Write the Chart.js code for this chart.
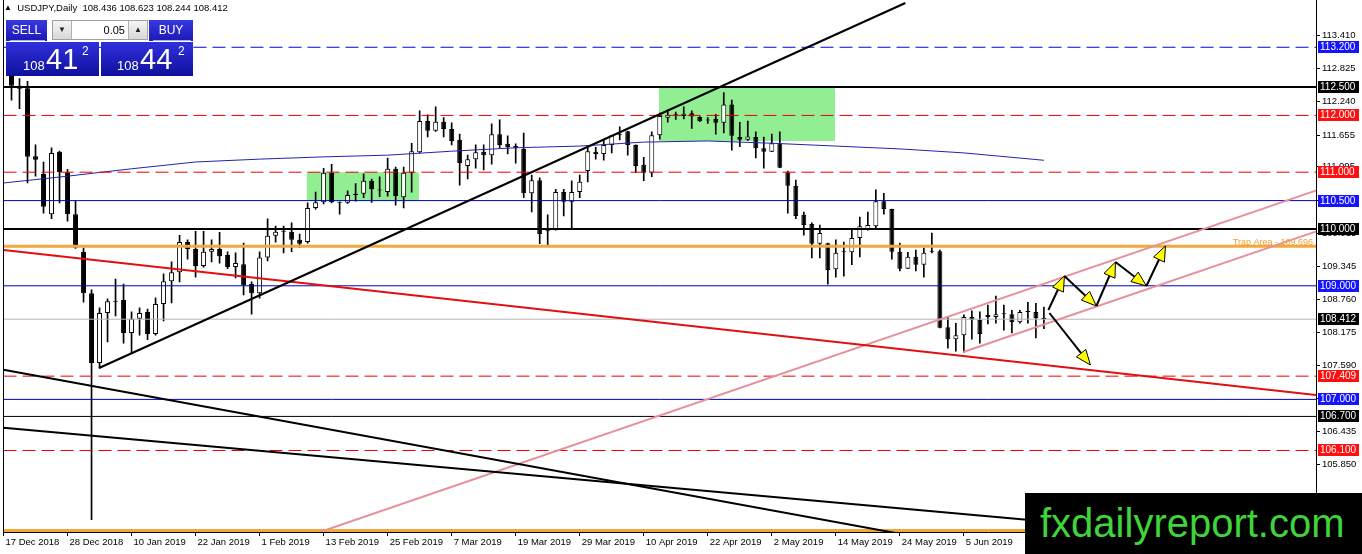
<!DOCTYPE html>
<html>
<head>
<meta charset="utf-8">
<title>USDJPY Daily</title>
<script src="https://cdn.jsdelivr.net/npm/chart.js@4.4.1/dist/chart.umd.min.js"></script>
<style>
  html, body { margin: 0; padding: 0; background: #fff; }
  #wrap { position: relative; width: 1362px; height: 554px; overflow: hidden; font-family: "Liberation Sans", Arial, sans-serif; }
  #chart { position: absolute; left: 0; top: 0; }
  #title { position: absolute; left: 4px; top: 1px; line-height: 13px; font-size: 9.5px; color: #000; white-space: pre; }
  #title .tri { font-size: 8px; position: relative; top: -1px; }
  .btn { position: absolute; top: 20px; height: 21px; line-height: 21px; background: linear-gradient(#3838e0, #1a1ab8); color: #fff; font-size: 12px; text-align: center; }
  .btn .ul { position: absolute; left: 4px; right: 2px; bottom: 0; height: 1px; background: #a8aee8; }
  #spin { position: absolute; left: 52px; top: 20px; width: 96px; height: 20px; background: #fff; border: 1px solid #a0a0a0; box-sizing: border-box; }
  #spin .arr { position: absolute; top: 0; width: 18px; height: 18px; line-height: 18px; background: linear-gradient(#f4f4f4, #d8d8d8); border-right: 1px solid #b0b0b0; font-size: 8px; text-align: center; color: #222; }
  #spin .dn { left: 0; }
  #spin .up { right: 0; border-right: none; border-left: 1px solid #b0b0b0; }
  #spin .lot { position: absolute; left: 20px; right: 22px; top: 0; line-height: 18px; text-align: right; font-size: 11px; color: #000; }
  .price { position: absolute; top: 42px; height: 34px; background: linear-gradient(#3030dc, #10109e); color: #fff; }
  .price span { position: absolute; line-height: 1; white-space: nowrap; }
  .price .s { font-size: 13px; top: 17px; }
  .price .b { font-size: 29px; top: 3px; }
  .price .p { font-size: 12px; top: 3px; }
  #logo { position: absolute; left: 1025px; top: 493px; width: 337px; height: 61px; background: #000; color: #3fd43a; font-size: 40px; line-height: 61px; text-indent: 15px; white-space: nowrap; }
</style>
</head>
<body>
<div id="wrap">
  <canvas id="chart" width="1362" height="554" style="width:1362px;height:554px"></canvas>
  <div id="title"><span class="tri">▲</span>  USDJPY,Daily  108.436 108.623 108.244 108.412</div>
  <div class="btn" style="left:6px;width:41px">SELL<div class="ul"></div></div>
  <div id="spin"><div class="arr dn">▼</div><div class="lot">0.05</div><div class="arr up">▲</div></div>
  <div class="btn" style="left:149px;width:44px">BUY<div class="ul"></div></div>
  <div class="price" style="left:6px;width:93px"><span class="s" style="left:17px">108</span><span class="b" style="left:40px">41</span><span class="p" style="left:76px">2</span></div>
  <div class="price" style="left:101px;width:92px"><span class="s" style="left:16px">108</span><span class="b" style="left:39px">44</span><span class="p" style="left:77px">2</span></div>
  <div id="logo">fxdailyreport.com</div>
</div>
<script>
// daily bars, 18 Dec 2018 .. 19 Jun 2019 (17 Dec sits on the left edge)
var dates = [
  '18 Dec 2018','19 Dec 2018','20 Dec 2018','21 Dec 2018','24 Dec 2018','26 Dec 2018','27 Dec 2018','28 Dec 2018','31 Dec 2018',
  '2 Jan 2019','3 Jan 2019','4 Jan 2019','7 Jan 2019','8 Jan 2019','9 Jan 2019','10 Jan 2019','11 Jan 2019','14 Jan 2019','15 Jan 2019','16 Jan 2019','17 Jan 2019','18 Jan 2019','21 Jan 2019','22 Jan 2019','23 Jan 2019','24 Jan 2019','25 Jan 2019','28 Jan 2019','29 Jan 2019','30 Jan 2019','31 Jan 2019',
  '1 Feb 2019','4 Feb 2019','5 Feb 2019','6 Feb 2019','7 Feb 2019','8 Feb 2019','11 Feb 2019','12 Feb 2019','13 Feb 2019','14 Feb 2019','15 Feb 2019','18 Feb 2019','19 Feb 2019','20 Feb 2019','21 Feb 2019','22 Feb 2019','25 Feb 2019','26 Feb 2019','27 Feb 2019','28 Feb 2019',
  '1 Mar 2019','4 Mar 2019','5 Mar 2019','6 Mar 2019','7 Mar 2019','8 Mar 2019','11 Mar 2019','12 Mar 2019','13 Mar 2019','14 Mar 2019','15 Mar 2019','18 Mar 2019','19 Mar 2019','20 Mar 2019','21 Mar 2019','22 Mar 2019','25 Mar 2019','26 Mar 2019','27 Mar 2019','28 Mar 2019','29 Mar 2019',
  '1 Apr 2019','2 Apr 2019','3 Apr 2019','4 Apr 2019','5 Apr 2019','8 Apr 2019','9 Apr 2019','10 Apr 2019','11 Apr 2019','12 Apr 2019','15 Apr 2019','16 Apr 2019','17 Apr 2019','18 Apr 2019','19 Apr 2019','22 Apr 2019','23 Apr 2019','24 Apr 2019','25 Apr 2019','26 Apr 2019','29 Apr 2019','30 Apr 2019',
  '1 May 2019','2 May 2019','3 May 2019','6 May 2019','7 May 2019','8 May 2019','9 May 2019','10 May 2019','13 May 2019','14 May 2019','15 May 2019','16 May 2019','17 May 2019','20 May 2019','21 May 2019','22 May 2019','23 May 2019','24 May 2019','27 May 2019','28 May 2019','29 May 2019','30 May 2019','31 May 2019',
  '3 Jun 2019','4 Jun 2019','5 Jun 2019','6 Jun 2019','7 Jun 2019','10 Jun 2019','11 Jun 2019','12 Jun 2019','13 Jun 2019','14 Jun 2019','17 Jun 2019','18 Jun 2019','19 Jun 2019'
];
var opens = [
  112.82,112.52,112.48,111.28,110.97,110.26,111.36,111.00,110.26,
  109.60,108.87,107.64,108.52,108.73,108.75,108.17,108.42,108.54,108.15,108.68,109.08,109.24,109.77,109.65,109.35,109.60,109.65,109.54,109.33,109.38,109.03,
  108.87,109.50,109.88,109.95,109.95,109.81,109.77,110.37,110.47,110.99,110.47,110.46,110.60,110.62,110.85,110.69,110.65,111.06,110.56,110.99,
  111.35,111.90,111.73,111.89,111.76,111.57,111.11,111.23,111.36,111.30,111.67,111.50,111.46,111.41,110.63,110.86,109.96,109.98,110.65,110.48,110.65,
  111.02,111.36,111.32,111.48,111.67,111.72,111.48,111.13,110.99,111.65,111.96,112.00,111.99,112.04,111.97,111.92,111.94,111.87,112.19,111.62,111.57,111.62,
  111.42,111.36,111.51,111.00,110.76,110.25,110.09,109.74,109.75,109.29,109.60,109.59,109.84,110.00,110.05,110.49,110.35,109.60,109.30,109.51,109.37,109.61,109.61,
  108.27,108.06,108.13,108.45,108.40,108.49,108.45,108.50,108.50,108.36,108.54,108.54,108.436
];
var highs = [
  112.86,112.65,112.60,111.48,111.18,111.43,111.37,111.05,110.49,
  109.67,108.93,108.61,108.77,109.12,109.03,108.54,108.61,108.59,108.79,109.21,109.42,109.89,109.81,109.96,109.96,109.81,109.94,109.60,109.58,109.75,109.07,
  109.60,110.18,110.05,110.05,110.11,109.91,110.46,110.65,111.07,111.14,110.48,110.67,110.80,110.97,110.88,110.92,111.25,111.09,111.09,111.51,
  112.08,112.01,112.15,111.96,111.87,111.67,111.30,111.48,111.48,111.85,111.92,111.64,111.50,111.69,110.95,110.90,110.25,110.70,110.70,110.85,110.95,
  111.44,111.44,111.58,111.65,111.80,111.72,111.48,111.26,111.71,112.04,112.10,112.06,112.15,112.08,111.98,111.96,112.02,112.40,112.27,111.88,111.90,111.71,
  111.62,111.67,111.71,111.02,110.86,110.30,110.11,110.07,109.75,109.81,109.77,110.00,110.21,110.30,110.69,110.63,110.35,109.75,109.59,109.63,109.67,109.93,109.63,
  108.45,108.34,108.49,108.56,108.54,108.66,108.82,108.66,108.57,108.57,108.71,108.69,108.623
];
var lows = [
  112.27,112.12,110.81,110.93,110.28,110.18,110.46,110.14,109.66,
  108.71,104.88,107.55,108.01,108.47,107.99,107.82,108.13,108.05,108.13,108.38,108.70,109.07,109.47,109.15,109.33,109.42,109.40,109.30,109.14,108.84,108.50,
  108.78,109.44,109.77,109.58,109.60,109.67,109.75,110.35,110.44,110.46,110.26,110.45,110.49,110.55,110.47,110.57,110.58,110.42,110.37,110.65,
  111.34,111.62,111.72,111.62,111.48,110.77,110.88,111.07,111.04,111.14,111.43,111.32,111.16,110.55,110.30,109.74,109.72,109.98,110.23,110.02,110.55,
  110.83,111.23,111.21,111.34,111.57,111.30,110.99,110.85,110.92,111.58,111.88,111.93,111.94,111.77,111.89,111.86,111.67,111.69,111.39,111.45,111.56,111.25,
  111.07,111.36,111.08,110.28,110.18,109.89,109.49,109.49,109.03,109.15,109.17,109.37,109.51,109.98,110.02,110.26,109.47,109.26,109.30,109.26,109.15,109.58,108.26,
  107.90,107.85,107.83,108.06,107.99,108.33,108.34,108.22,108.17,108.34,108.34,108.08,108.244
];
var closes = [
  112.52,112.47,111.27,111.22,110.39,111.34,111.00,110.26,109.67,
  108.87,107.64,108.52,108.73,108.72,108.17,108.42,108.52,108.15,108.68,109.08,109.24,109.77,109.65,109.35,109.60,109.65,109.52,109.33,109.40,109.01,108.87,
  109.50,109.88,109.95,109.96,109.81,109.74,110.37,110.47,110.99,110.47,110.46,110.60,110.62,110.85,110.70,110.68,111.06,110.58,110.99,111.37,
  111.90,111.73,111.89,111.76,111.55,111.16,111.23,111.35,111.30,111.67,111.48,111.44,111.43,110.63,110.86,109.91,109.97,110.65,110.48,110.65,110.83,
  111.37,111.32,111.48,111.65,111.65,111.48,111.11,110.99,111.65,111.99,112.01,112.02,112.03,111.98,111.90,111.91,111.87,112.19,111.64,111.57,111.63,111.42,
  111.36,111.51,111.08,110.76,110.23,110.07,109.74,109.93,109.28,109.58,109.59,109.84,110.05,110.07,110.49,110.35,109.60,109.30,109.51,109.37,109.58,109.60,108.26,
  108.06,108.13,108.45,108.40,108.15,108.45,108.50,108.51,108.36,108.54,108.54,108.43,108.412
];

// axis ticks (bar index, price)
var xTickIdx = [0, 8, 16, 24, 32, 40, 48, 56, 64, 72, 80, 88, 96, 104, 112, 120];
var xTickLabels = ['17 Dec 2018','28 Dec 2018','10 Jan 2019','22 Jan 2019','1 Feb 2019','13 Feb 2019','25 Feb 2019','7 Mar 2019',
                   '19 Mar 2019','29 Mar 2019','10 Apr 2019','22 Apr 2019','2 May 2019','14 May 2019','24 May 2019','5 Jun 2019'];
var yTickValues = [113.410, 112.825, 112.240, 111.655, 111.095, 110.505, 109.915, 109.345, 108.760, 108.175, 107.590, 107.020, 106.435, 105.850, 105.265];

// horizontal levels
var levelPrices = [113.2, 112.5, 112.0, 111.0, 110.5, 110.0, 109.696, 109.0, 108.412, 107.409, 107.0, 106.7, 106.1, 104.69];
var levelKinds  = ['blueDash','black','redDash','redDash','blue','black','orange','blue','bid','redDash','blue','blackThin','redDash','orange'];

// moving average read at a few bars
var maIdx  = [0, 8, 16, 24, 32, 40, 48, 56, 64, 72, 80, 88, 96, 104, 112, 120, 130];
var maVals = [110.81, 110.93, 111.06, 111.18, 111.23, 111.27, 111.30, 111.37, 111.43, 111.46, 111.53, 111.55, 111.51, 111.46, 111.41, 111.34, 111.21];

// trend lines: [bar index, price] end points
var upTrend      = [[11.94, 107.553], [112.69, 113.979]];
var downTrendA   = [[0, 107.52], [130, 104.17]];
var downTrendB   = [[0, 106.50], [129.6, 104.86]];
var redTrend     = [[0, 109.63], [164, 107.077]];
var channelUpper = [[39.56, 104.665], [164.2, 110.687]];
var channelLower = [[119.94, 107.835], [164.2, 109.965]];

// green zones: [from idx, to idx, low price, high price]
var zoneBoxes = [[37.9, 51.9, 110.5, 111.0], [81.9, 103.9, 111.55, 112.5]];

// scenario arrows
var zigzagPath = [[130.56, 108.574], [132.56, 109.173], [136.56, 108.644], [138.94, 109.419], [142.81, 108.996], [145.19, 109.701]];
var dropPath   = [[130.69, 108.521], [135.81, 107.606]];
var trapText = 'Trap Area - 109.696';

var levelStyle = {
    blueDash:  { color: '#0000f0', width: 1, dash: [13, 6] },
    black:     { color: '#000000', width: 2, dash: [] },
    redDash:   { color: '#e80000', width: 1, dash: [13, 6] },
    blue:      { color: '#0000c0', width: 1, dash: [] },
    orange:    { color: '#f2a93b', width: 3, dash: [] },
    bid:       { color: '#b4b4b4', width: 1, dash: [] },
    blackThin: { color: '#000000', width: 1, dash: [] }
};
var boxColor = { blueDash: '#1414ff', black: '#000000', redDash: '#ff1010', blue: '#1414ff', bid: '#000000', blackThin: '#000000' };

var FONT = '"Liberation Sans", Arial, sans-serif';

function toPoints(pairs)
{
    return pairs.map(function(p) { return { x: p[0], y: p[1] }; });
}

function lineSet(points, color, width, dash, order)
{
    return {
        type: 'line',
        data: points,
        borderColor: color,
        borderWidth: width,
        borderDash: dash || [],
        pointRadius: 0,
        fill: false,
        tension: 0,
        order: order
    };
}

function drawArrow(ctx, x1, y1, x2, y2)
{
    var ang = Math.atan2(y2 - y1, x2 - x1);
    var head = 15, half = 6;
    var bx = x2 - head * Math.cos(ang), by = y2 - head * Math.sin(ang);
    ctx.strokeStyle = '#000';
    ctx.lineWidth = 2;
    ctx.beginPath();
    ctx.moveTo(x1, y1);
    ctx.lineTo(bx, by);
    ctx.stroke();
    ctx.beginPath();
    ctx.moveTo(x2, y2);
    ctx.lineTo(bx + half * Math.sin(ang), by - half * Math.cos(ang));
    ctx.lineTo(bx - half * Math.sin(ang), by + half * Math.cos(ang));
    ctx.closePath();
    ctx.fillStyle = '#ffff00';
    ctx.fill();
    ctx.lineWidth = 1;
    ctx.stroke();
}

var overlay = {
    id: 'overlay',
    beforeDatasetsDraw: function(chart) {
        var ctx = chart.ctx, x = chart.scales.x, y = chart.scales.y;
        ctx.save();
        ctx.fillStyle = '#92ee92';
        zoneBoxes.forEach(function(b) {
            var x1 = x.getPixelForValue(b[0]), x2 = x.getPixelForValue(b[1]);
            var y1 = y.getPixelForValue(b[3]), y2 = y.getPixelForValue(b[2]);
            ctx.fillRect(x1, y1, x2 - x1, y2 - y1);
        });
        ctx.restore();
    },
    afterDatasetsDraw: function(chart) {
        var ctx = chart.ctx, x = chart.scales.x, y = chart.scales.y, area = chart.chartArea;
        ctx.save();
        // scenario arrows
        for (var i = 1; i < zigzagPath.length; i++)
            drawArrow(ctx, x.getPixelForValue(zigzagPath[i - 1][0]), y.getPixelForValue(zigzagPath[i - 1][1]),
                           x.getPixelForValue(zigzagPath[i][0]), y.getPixelForValue(zigzagPath[i][1]));
        drawArrow(ctx, x.getPixelForValue(dropPath[0][0]), y.getPixelForValue(dropPath[0][1]),
                       x.getPixelForValue(dropPath[1][0]), y.getPixelForValue(dropPath[1][1]));
        // trap area caption
        ctx.font = '9px ' + FONT;
        ctx.fillStyle = '#f0a030';
        ctx.textAlign = 'right';
        ctx.textBaseline = 'bottom';
        ctx.fillText(trapText, area.right - 3, y.getPixelForValue(109.696) + 1);
        // left frame
        ctx.strokeStyle = '#000';
        ctx.lineWidth = 1;
        ctx.beginPath();
        ctx.moveTo(area.left, 0);
        ctx.lineTo(area.left, area.bottom);
        ctx.stroke();
        ctx.restore();
    },
    afterDraw: function(chart) {
        var ctx = chart.ctx, y = chart.scales.y, area = chart.chartArea;
        ctx.save();
        ctx.font = '10px ' + FONT;
        ctx.textAlign = 'left';
        ctx.textBaseline = 'middle';
        levelPrices.forEach(function(p, i) {
            var c = boxColor[levelKinds[i]];
            if (!c) return;
            var py = Math.round(y.getPixelForValue(p));
            ctx.fillStyle = c;
            ctx.fillRect(area.right + 2, py - 6, 41, 12);
            ctx.fillStyle = '#ffffff';
            ctx.fillText(p.toFixed(3), area.right + 4, py + 0.5);
        });
        ctx.restore();
    }
};

var datasets = [];

// wicks and bodies
datasets.push({
    type: 'bar',
    data: dates.map(function(d, i) { return { x: i + 1, y: [lows[i], highs[i]] }; }),
    backgroundColor: '#000',
    barThickness: 1,
    grouped: false,
    order: 3
});
datasets.push({
    type: 'bar',
    data: dates.map(function(d, i) { return { x: i + 1, y: [opens[i], closes[i]] }; }),
    backgroundColor: function(c) { return closes[c.dataIndex] > opens[c.dataIndex] ? '#ffffff' : '#000000'; },
    borderColor: '#000',
    borderWidth: 1,
    borderSkipped: false,
    minBarLength: 1,
    barPercentage: 0.62,
    categoryPercentage: 1,
    grouped: false,
    order: 2
});

// levels
levelPrices.forEach(function(p, i) {
    var s = levelStyle[levelKinds[i]];
    datasets.push(lineSet([{ x: 0, y: p }, { x: 164, y: p }], s.color, s.width, s.dash, 1));
});

// moving average
datasets.push(lineSet(maIdx.map(function(v, i) { return { x: v, y: maVals[i] }; }), '#2323a8', 1, [], 1));

// trend lines
datasets.push(lineSet(toPoints(upTrend), '#000', 2, [], 0));
datasets.push(lineSet(toPoints(downTrendA), '#000', 2, [], 0));
datasets.push(lineSet(toPoints(downTrendB), '#000', 2, [], 0));
datasets.push(lineSet(toPoints(redTrend), '#e01010', 2, [], 0));
datasets.push(lineSet(toPoints(channelUpper), '#e8909a', 2, [], 0));
datasets.push(lineSet(toPoints(channelLower), '#e8909a', 2, [], 0));

new Chart(document.getElementById('chart'), {
    type: 'bar',
    data: { datasets: datasets },
    options: {
        responsive: false,
        animation: false,
        devicePixelRatio: 1,
        events: [],
        layout: { padding: { left: 3.5, right: 0, top: 0, bottom: 0 } },
        plugins: { legend: { display: false }, tooltip: { enabled: false } },
        scales: {
            x: {
                type: 'linear',
                min: 0,
                max: 164,
                offset: false,
                grid: { offset: false, drawOnChartArea: false, drawTicks: true, tickLength: 4, color: '#000' },
                border: { display: true, color: '#000' },
                ticks: {
                    autoSkip: false,
                    maxRotation: 0,
                    align: 'start',
                    labelOffset: 2,
                    padding: 1,
                    color: '#000',
                    font: { family: FONT, size: 9.5 },
                    callback: function(v) { return xTickLabels[xTickIdx.indexOf(v)]; }
                },
                afterBuildTicks: function(axis) { axis.ticks = xTickIdx.map(function(v) { return { value: v }; }); },
                afterFit: function(s) { s.height = 22; s.paddingLeft = 0; s.paddingRight = 0; }
            },
            y: {
                type: 'linear',
                position: 'right',
                min: 104.665,
                max: 114.032,
                beginAtZero: false,
                grid: { drawOnChartArea: false, drawTicks: true, tickLength: 4, color: '#000' },
                border: { display: true, color: '#000' },
                ticks: {
                    padding: 2,
                    color: '#000',
                    font: { family: FONT, size: 9.5 },
                    callback: function(v) { return Number(v).toFixed(3); }
                },
                afterBuildTicks: function(axis) { axis.ticks = yTickValues.map(function(v) { return { value: v }; }); },
                afterFit: function(s) { s.width = 46; s.paddingTop = 0; s.paddingBottom = 0; }
            }
        }
    },
    plugins: [overlay]
});
</script>
</body>
</html>
